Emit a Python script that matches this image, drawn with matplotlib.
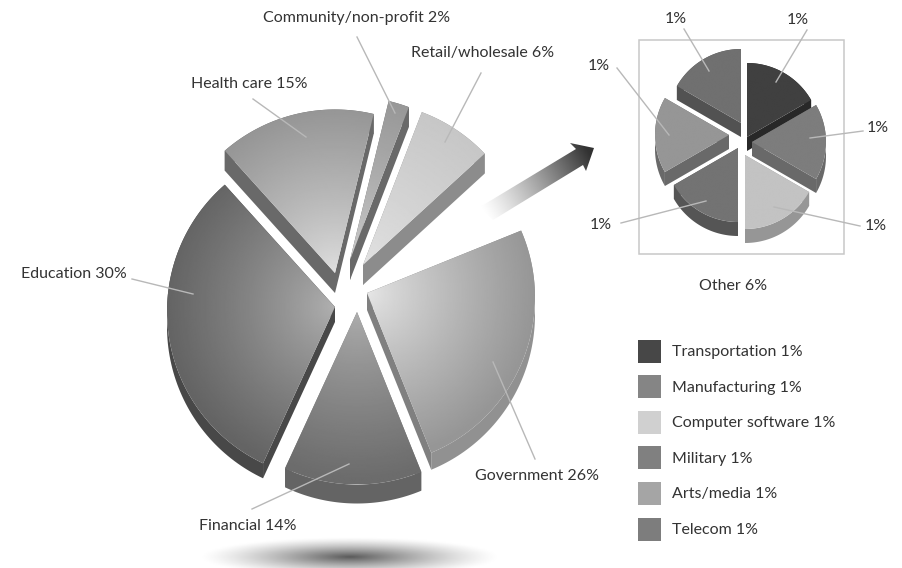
import numpy as np
import matplotlib
matplotlib.use('Agg')
import matplotlib.pyplot as plt
from matplotlib.patches import Polygon, Rectangle

plt.rcParams['font.family'] = ['Lato', 'DejaVu Sans']

# main pie, clockwise from the retail slice
main_names = ['Retail/wholesale', 'Other', 'Government', 'Financial', 'Education', 'Health care', 'Community/non-profit']
main_pct = [6, 6, 26, 14, 30, 15, 2]
# swept share of the circle as it looks in the picture (labels do not add up to 100)
main_share = [7.2, 5.6, 25.3, 13.3, 31.6, 15.1, 2.0]

# breakdown of Other
other_names = ['Transportation', 'Manufacturing', 'Computer software', 'Military', 'Arts/media', 'Telecom']
other_pct = [1, 1, 1, 1, 1, 1]
other_colors = ['#474747', '#858585', '#d0d0d0', '#808080', '#a5a5a5', '#7d7d7d']

# style per slice: tip offset, gray at tip, gray at rim, radial side, arc side, depth
main_style = {
    'Retail/wholesale': ((13, -25), 226, 198, 140, 140, 20),
    'Government': ((17, 3), 232, 150, 128, 145, 17),
    'Financial': ((7, 22), 175, 108, 125, 100, 19),
    'Education': ((-15, 17), 178, 100, 72, 72, 15),
    'Health care': ((-15, -17), 225, 148, 105, 105, 20),
    'Community/non-profit': ((0, -30), 205, 150, 105, 105, 20),
}
other_style = {
    'Transportation': ((3, 0), 64, 64, 40, 40, 14),
    'Manufacturing': ((8, 5), 125, 125, 105, 105, 14),
    'Computer software': ((1, 18), 195, 195, 150, 150, 14),
    'Military': ((-6, 11), 115, 115, 85, 85, 14),
    'Arts/media': ((-15, -2), 150, 150, 105, 105, 14),
    'Telecom': ((-3, -14), 112, 112, 82, 82, 14),
}


def gray(v):
    return (v / 255, v / 255, v / 255)


def draw_slice(ax, center, r, sag, a0, a1, style, z):
    offset, g_in, g_out, side, arc, depth = style
    cx = center[0] + offset[0]
    cy = center[1] + offset[1]
    # angles are clockwise from the top, y axis points down
    t = np.radians(np.linspace(a0, a1, 80) - 90)
    xs = cx + r * np.cos(t)
    ys = cy + sag + r * np.sin(t)
    for x1, y1 in [(xs[0], ys[0]), (xs[-1], ys[-1])]:
        ax.add_patch(Polygon([(cx, cy), (x1, y1), (x1, y1 + depth), (cx, cy + depth)],
                             fc=gray(side), ec='none', zorder=z))
    band = np.r_[np.c_[xs, ys], np.c_[xs, ys + depth][::-1]]
    ax.add_patch(Polygon(band, fc=gray(arc), ec='none', zorder=z + 0.1))

    top = Polygon(np.r_[[(cx, cy)], np.c_[xs, ys]], fc='none', ec='none', zorder=z + 0.2)
    ax.add_patch(top)
    gx, gy = np.meshgrid(np.linspace(cx - r, cx + r, 300), np.linspace(cy - r, cy + r + sag, 300))
    rad = np.clip(np.hypot(gx - cx, gy - cy) / r, 0, 1)
    im = ax.imshow(g_in + (g_out - g_in) * rad ** 0.8, cmap='gray', vmin=0, vmax=255,
                   extent=(cx - r, cx + r, cy + r + sag, cy - r), zorder=z + 0.2, aspect='auto')
    im.set_clip_path(top)


fig = plt.figure(figsize=(9.03, 5.68), dpi=100)
ax = fig.add_axes([0, 0, 1, 1])

# shadow under the pie
gx, gy = np.meshgrid(np.linspace(190, 510, 320), np.linspace(530, 568, 60))
rad = np.clip(np.hypot((gx - 350) / 150, (gy - 557) / 20), 0, 1)
ax.imshow(255 - 165 * (1 - rad) ** 1.3, cmap='gray', vmin=0, vmax=255,
          extent=(190, 510, 568, 530), zorder=0, aspect='auto')

# main pie
angle = 20.5
scale = 360 / sum(main_share)
slices = []
for name, share in zip(main_names, main_share):
    if name != 'Other':
        slices.append((name, angle, angle + share * scale))
    angle += share * scale
# back slices first so the nearer ones sit on top
for i, (name, a0, a1) in enumerate(sorted(slices, key=lambda s: main_style[s[0]][0][1])):
    draw_slice(ax, (350, 290), 168, 4.5, a0, a1, main_style[name], 2 + i)

# arrow towards the breakdown
arrow = Polygon([(480, 207), (576, 149), (570, 143), (594, 148), (586, 171), (583, 165), (493, 220)],
                fc='none', ec='none', zorder=2)
ax.add_patch(arrow)
gx, gy = np.meshgrid(np.linspace(470, 600, 200), np.linspace(135, 230, 150))
along = np.clip(((gx - 484) * 0.87 + (gy - 213) * -0.5) / 122, 0, 1)
im = ax.imshow(255 - 205 * along ** 1.2, cmap='gray', vmin=0, vmax=255,
               extent=(470, 600, 230, 135), zorder=2, aspect='auto')
im.set_clip_path(arrow)

# breakdown pie
ax.add_patch(Rectangle((639, 40), 205, 214, fc='white', ec='#c8c8c8', lw=1.1, zorder=1))
step = 360 / len(other_names)
order = sorted(range(len(other_names)), key=lambda i: other_style[other_names[i]][0][1])
for k, i in enumerate(order):
    draw_slice(ax, (744, 137), 74, 0, i * step, (i + 1) * step, other_style[other_names[i]], 20 + k)

# leader lines
leaders = [
    ((253, 99), (306, 137)), ((357, 37), (395, 113)), ((481, 73), (445, 142)),
    ((132, 279), (193, 294)), ((493, 362), (535, 459)), ((252, 509), (349, 464)),
    ((684, 29), (709, 71)), ((807, 30), (776, 82)), ((863, 131), (810, 138)),
    ((860, 226), (774, 207)), ((621, 223), (706, 201)), ((617, 68), (669, 135)),
]
for p, q in leaders:
    ax.plot([p[0], q[0]], [p[1], q[1]], color='#b8b8b8', lw=1.0, zorder=40)

# labels
font = dict(fontsize=11.5, color='#333333', ha='center', va='center', zorder=41)
label_pos = {'Community/non-profit': (357, 18), 'Retail/wholesale': (483, 53), 'Health care': (249, 84),
             'Education': (74, 274), 'Government': (537, 476), 'Financial': (248, 526)}
for name, pct in zip(main_names, main_pct):
    if name in label_pos:
        ax.text(*label_pos[name], f'{name} {pct}%', **font)
other_pos = [(798, 20), (878, 128), (876, 226), (601, 225), (599, 66), (676, 19)]
for pos, pct in zip(other_pos, other_pct):
    ax.text(*pos, f'{pct}%', **font)
ax.text(733, 286, f'Other {main_pct[1]}%', **font)

# legend
for i, name in enumerate(other_names):
    y = 351 + i * 35.6
    ax.add_patch(Rectangle((638, y - 11.5), 23, 23, fc=other_colors[i], ec='none', zorder=40))
    ax.text(672, y + 1, f'{name} {other_pct[i]}%', **{**font, 'ha': 'left'})

ax.set_xlim(0, 903)
ax.set_ylim(568, 0)
ax.axis('off')
fig.savefig('out.png', dpi=100)
